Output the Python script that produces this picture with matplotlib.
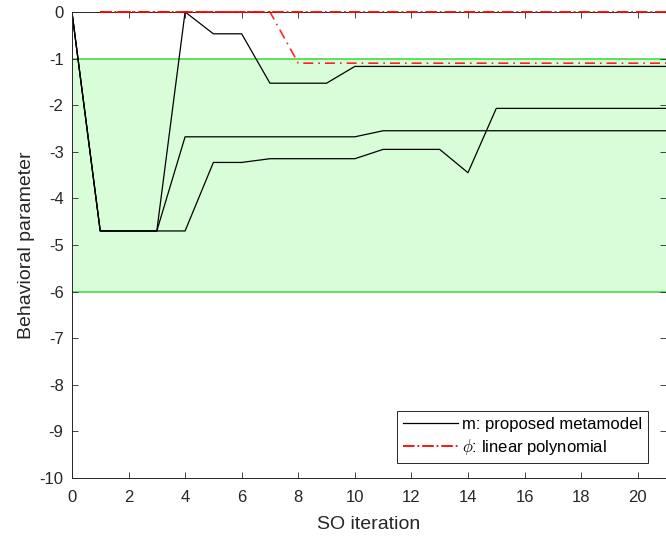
import numpy as np
import matplotlib
matplotlib.use("Agg")
import matplotlib.pyplot as plt

plt.rcParams['font.family'] = ['Liberation Sans', 'DejaVu Sans']
plt.rcParams['axes.unicode_minus'] = False
plt.rcParams['mathtext.fontset'] = 'cm'

# SO iterations
iters = list(range(0, 22))

# proposed metamodel runs (black)
m_run1 = [0, -4.7, -4.7, -4.7, 0, -0.47, -0.47, -1.53, -1.53, -1.53, -1.17,
          -1.17, -1.17, -1.17, -1.17, -1.17, -1.17, -1.17, -1.17, -1.17, -1.17, -1.17]
m_run2 = [0, -4.7, -4.7, -4.7, -2.68, -2.68, -2.68, -2.68, -2.68, -2.68, -2.68,
          -2.55, -2.55, -2.55, -2.55, -2.55, -2.55, -2.55, -2.55, -2.55, -2.55, -2.55]
m_run3 = [0, -4.7, -4.7, -4.7, -4.7, -3.23, -3.23, -3.15, -3.15, -3.15, -3.15,
          -2.95, -2.95, -2.95, -3.45, -2.07, -2.07, -2.07, -2.07, -2.07, -2.07, -2.07]

# linear polynomial runs (red)
phi_iters = list(range(1, 22))
phi_run1 = [0] * 21
phi_run2 = [0, 0, 0, 0, 0, 0, 0, -1.1, -1.1, -1.1, -1.1, -1.1, -1.1, -1.1,
            -1.1, -1.1, -1.1, -1.1, -1.1, -1.1, -1.1]

# feasible region
band_low, band_high = -6, -1

fig = plt.figure(figsize=(6.66, 5.41), dpi=100)
ax = fig.add_axes([0.108, 0.1165, 0.892, 0.8615])

ax.axhspan(band_low, band_high, color='#d9fcd9', zorder=0, lw=0)
ax.axhline(band_high, color='#44dd44', lw=1.2, zorder=1)
ax.axhline(band_low, color='#44dd44', lw=1.2, zorder=1)

ax.plot(iters, m_run1, color='black', lw=0.9, label='m: proposed metamodel')
ax.plot(iters, m_run2, color='black', lw=0.9)
ax.plot(iters, m_run3, color='black', lw=0.9)

ax.plot(phi_iters, phi_run1, color='red', lw=1.3, ls='-.', label=r'$\phi$: linear polynomial',
        clip_on=False, zorder=4)
ax.plot(phi_iters, phi_run2, color='red', lw=1.2, ls=(3, (6, 3, 1, 3)), clip_on=False, alpha=0.85, zorder=4)

ax.set_xlim(0, 21)
ax.set_ylim(-10, 0)
ax.set_xticks(range(0, 21, 2))
ax.set_yticks(range(-10, 1))
ax.tick_params(direction='in', length=4, width=0.6, labelsize=12, top=True, right=True, colors='#262626')
ax.tick_params(axis='x', pad=8.5)
ax.tick_params(axis='y', pad=6)
for s in ax.spines.values():
    s.set_color('#262626')
    s.set_linewidth(0.7)

ax.set_xlabel('SO iteration', fontsize=14, color='#262626', labelpad=8)
ax.set_ylabel('Behavioral parameter', fontsize=14, color='#262626', labelpad=3)

leg = ax.legend(loc='lower right', bbox_to_anchor=(0.970, 0.032), fontsize=12, fancybox=False,
                edgecolor='#262626', framealpha=1, handlelength=3.3, handletextpad=0.25,
                borderpad=0.35, labelspacing=0.3, borderaxespad=0)
leg.get_frame().set_linewidth(0.7)

fig.savefig('out.png', dpi=100)
